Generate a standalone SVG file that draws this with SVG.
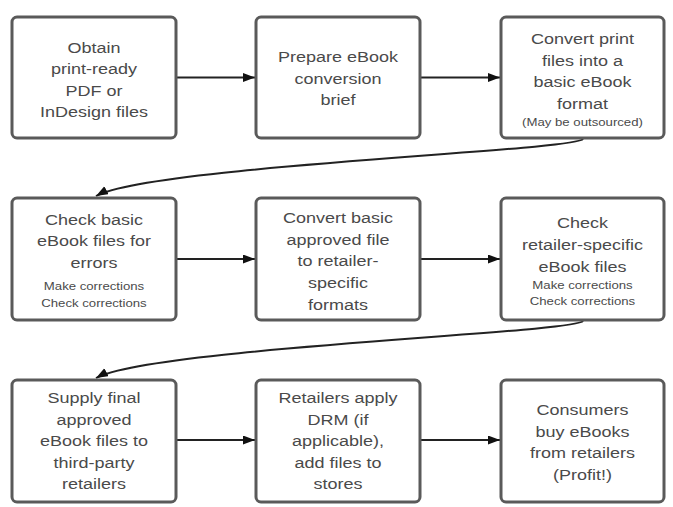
<svg xmlns="http://www.w3.org/2000/svg" width="673" height="507" viewBox="0 0 673 507">
<style>
.box{fill:#fff;stroke:#5a5a5a;stroke-width:3}
.t{font-family:"Liberation Sans",Arial,sans-serif;font-size:15px;fill:#4a4a4a;text-anchor:middle}
.s{font-family:"Liberation Sans",Arial,sans-serif;font-size:11px;fill:#4a4a4a;text-anchor:middle}
.c{fill:none;stroke:#222;stroke-width:2}
</style>
<defs>
<marker id="ah" markerUnits="userSpaceOnUse" markerWidth="12" markerHeight="10" refX="12" refY="4.5" orient="auto">
<path d="M0,0 L12,4.5 L0,9 z" fill="#111"/>
</marker>
</defs>
<rect width="673" height="507" fill="#fff"/>
<g id="connectors">
<line class="c" x1="177" y1="77.5" x2="255" y2="77.5" marker-end="url(#ah)"/>
<line class="c" x1="421" y1="77.5" x2="500" y2="77.5" marker-end="url(#ah)"/>
<path class="c" d="M583,139 C575,151 150,166 96,196" marker-end="url(#ah)"/>
<line class="c" x1="177" y1="259" x2="255" y2="259" marker-end="url(#ah)"/>
<line class="c" x1="421" y1="259" x2="500" y2="259" marker-end="url(#ah)"/>
<path class="c" d="M583,321 C575,333 150,348 96,378" marker-end="url(#ah)"/>
<line class="c" x1="177" y1="440" x2="255" y2="440" marker-end="url(#ah)"/>
<line class="c" x1="421" y1="440" x2="500" y2="440" marker-end="url(#ah)"/>
</g>
<g id="n1">
<rect class="box" x="12" y="17" width="164" height="121" rx="5"/>
<g transform="scale(1.2 1)">
<text class="t" x="78.33" y="53">Obtain</text>
<text class="t" x="78.33" y="74.5">print-ready</text>
<text class="t" x="78.33" y="96">PDF or</text>
<text class="t" x="78.33" y="117.5">InDesign files</text>
</g>
</g>
<g id="n2">
<rect class="box" x="256" y="17" width="164" height="121" rx="5"/>
<g transform="scale(1.2 1)">
<text class="t" x="281.67" y="62.5">Prepare eBook</text>
<text class="t" x="281.67" y="84">conversion</text>
<text class="t" x="281.67" y="105.5">brief</text>
</g>
</g>
<g id="n3">
<rect class="box" x="501" y="17" width="163" height="121" rx="5"/>
<g transform="scale(1.2 1)">
<text class="t" x="485.42" y="44.5">Convert print</text>
<text class="t" x="485.42" y="66">files into a</text>
<text class="t" x="485.42" y="87.5">basic eBook</text>
<text class="t" x="485.42" y="109">format</text>
<text class="s" x="485.42" y="126">(May be outsourced)</text>
</g>
</g>
<g id="n4">
<rect class="box" x="12" y="198" width="164" height="122" rx="5"/>
<g transform="scale(1.2 1)">
<text class="t" x="78.33" y="225">Check basic</text>
<text class="t" x="78.33" y="246.5">eBook files for</text>
<text class="t" x="78.33" y="268">errors</text>
<text class="s" x="78.33" y="290">Make corrections</text>
<text class="s" x="78.33" y="307">Check corrections</text>
</g>
</g>
<g id="n5">
<rect class="box" x="256" y="198" width="164" height="122" rx="5"/>
<g transform="scale(1.2 1)">
<text class="t" x="281.67" y="223">Convert basic</text>
<text class="t" x="281.67" y="244.7">approved file</text>
<text class="t" x="281.67" y="266.4">to retailer-</text>
<text class="t" x="281.67" y="288">specific</text>
<text class="t" x="281.67" y="309.8">formats</text>
</g>
</g>
<g id="n6">
<rect class="box" x="501" y="198" width="163" height="122" rx="5"/>
<g transform="scale(1.2 1)">
<text class="t" x="485.42" y="228">Check</text>
<text class="t" x="485.42" y="250">retailer-specific</text>
<text class="t" x="485.42" y="272">eBook files</text>
<text class="s" x="485.42" y="289">Make corrections</text>
<text class="s" x="485.42" y="305">Check corrections</text>
</g>
</g>
<g id="n7">
<rect class="box" x="12" y="380" width="164" height="122" rx="5"/>
<g transform="scale(1.2 1)">
<text class="t" x="78.33" y="403.5">Supply final</text>
<text class="t" x="78.33" y="425">approved</text>
<text class="t" x="78.33" y="446.5">eBook files to</text>
<text class="t" x="78.33" y="468">third-party</text>
<text class="t" x="78.33" y="489.5">retailers</text>
</g>
</g>
<g id="n8">
<rect class="box" x="256" y="380" width="164" height="122" rx="5"/>
<g transform="scale(1.2 1)">
<text class="t" x="281.67" y="403.5">Retailers apply</text>
<text class="t" x="281.67" y="425">DRM (if</text>
<text class="t" x="281.67" y="446.5">applicable),</text>
<text class="t" x="281.67" y="468">add files to</text>
<text class="t" x="281.67" y="489.5">stores</text>
</g>
</g>
<g id="n9">
<rect class="box" x="501" y="380" width="163" height="122" rx="5"/>
<g transform="scale(1.2 1)">
<text class="t" x="485.42" y="415.5">Consumers</text>
<text class="t" x="485.42" y="437">buy eBooks</text>
<text class="t" x="485.42" y="458.5">from retailers</text>
<text class="t" x="485.42" y="480">(Profit!)</text>
</g>
</g>
</svg>
